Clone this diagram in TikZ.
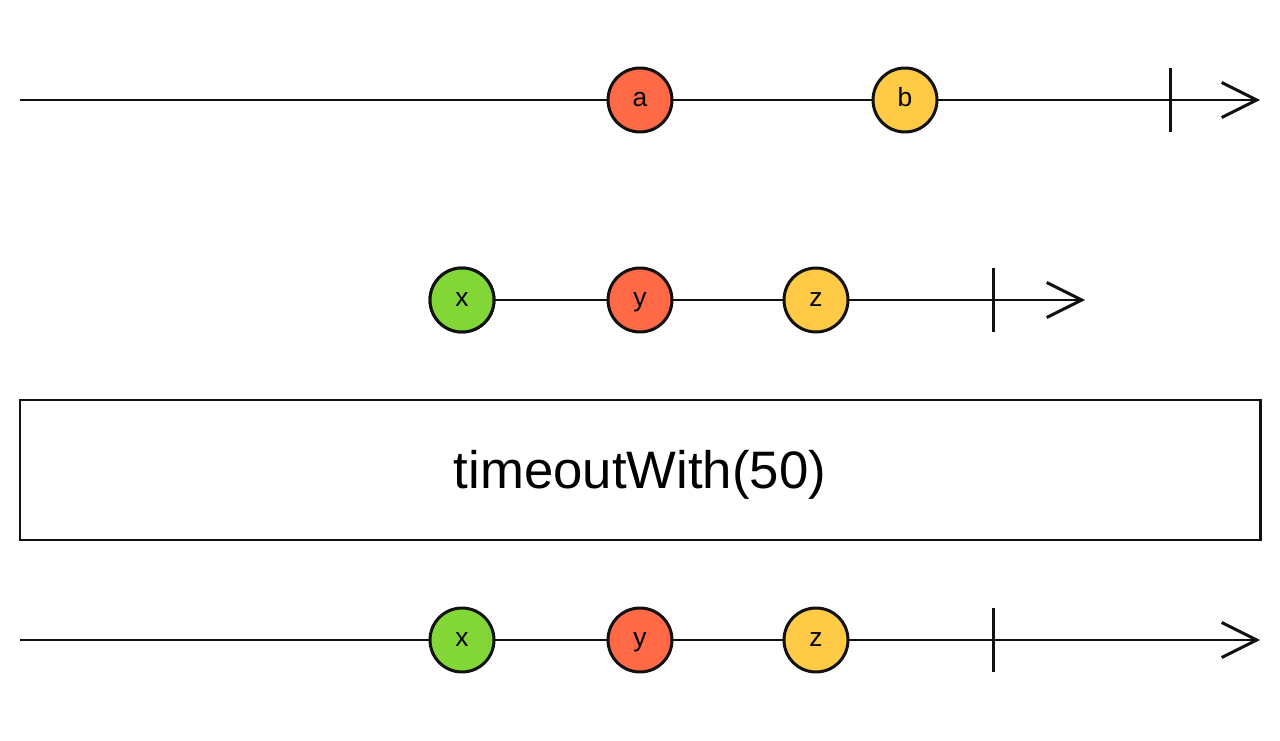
\documentclass[tikz,border=0pt]{standalone}
\usepackage{fontspec}
\setmainfont{Liberation Sans}
\usetikzlibrary{arrows.meta}
\definecolor{marblered}{HTML}{FF6946}
\definecolor{marbleyellow}{HTML}{FFCB46}
\definecolor{marblegreen}{HTML}{82D736}
\definecolor{inkblack}{HTML}{111111}

\tikzset{
  marble/.style={circle, draw=inkblack, line width=1.7pt, minimum size=1.28cm, inner sep=0pt, text height=7.8pt, text depth=0pt, font=\fontsize{15}{17}\selectfont},
  timeline/.style={draw=inkblack, line width=1.7pt, -{Straight Barb[length=0.7cm, width=0.7cm, line width=1.7pt]}},
  endtick/.style={draw=inkblack, line width=1.7pt}
}

\begin{document}
\begin{tikzpicture}
  \useasboundingbox (0,0) rectangle (25.6,14.8);
  % source
  \coordinate (s1) at (0.4,12.8);
  \coordinate (e1) at (25.2,12.8);
  \coordinate (t1) at (23.4,12.8);
  \draw[timeline] (s1) -- (e1);
  \draw[endtick] ([yshift=0.64cm]t1) -- ([yshift=-0.64cm]t1);
  \node[marble, fill=marblered] (a1) at (12.8,12.8) {a};
  \node[marble, fill=marbleyellow] (b1) at (18.1,12.8) {b};
  % fallback
  \coordinate (e2) at (21.7,8.8);
  \coordinate (t2) at (19.86,8.8);
  \node[marble, fill=marblegreen] (x2) at (9.24,8.8) {x};
  \draw[timeline] (x2.center) -- (e2);
  \draw[endtick] ([yshift=0.64cm]t2) -- ([yshift=-0.64cm]t2);
  \node[marble, fill=marblegreen] at (x2) {x};
  \node[marble, fill=marblered] (y2) at (12.8,8.8) {y};
  \node[marble, fill=marbleyellow] (z2) at (16.32,8.8) {z};
  % operator
  \node[draw=inkblack, line width=1.7pt, minimum width=24.8cm, minimum height=2.8cm, inner sep=0pt, text height=21.5pt, text depth=0pt, font=\fontsize{30}{36}\selectfont] (op) at (12.8,5.4) {timeoutWith(50)};
  % result
  \coordinate (s3) at (0.4,2.0);
  \coordinate (e3) at (25.2,2.0);
  \coordinate (t3) at (19.86,2.0);
  \draw[timeline] (s3) -- (e3);
  \draw[endtick] ([yshift=0.64cm]t3) -- ([yshift=-0.64cm]t3);
  \node[marble, fill=marblegreen] (x3) at (9.24,2.0) {x};
  \node[marble, fill=marblered] (y3) at (12.8,2.0) {y};
  \node[marble, fill=marbleyellow] (z3) at (16.32,2.0) {z};
\end{tikzpicture}
\end{document}
